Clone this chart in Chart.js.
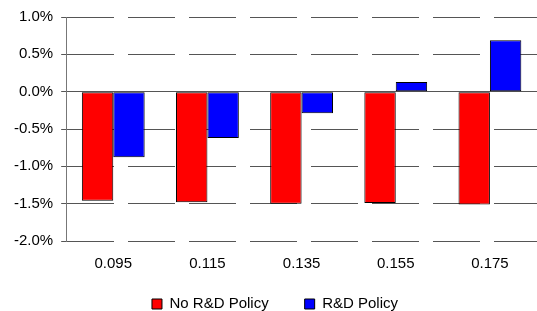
<!DOCTYPE html>
<html>
<head>
<meta charset="utf-8">
<script src="https://cdn.jsdelivr.net/npm/chart.js@4/dist/chart.umd.min.js"></script>
<style>
  html, body { margin: 0; padding: 0; background: #fff; }
  #wrap { width: 537px; height: 311px; }
</style>
</head>
<body>
<div id="wrap"><canvas id="c" width="537" height="311"></canvas></div>
<script>
const categories = ['0.095', '0.115', '0.135', '0.155', '0.175'];
const noPolicy = [-1.46, -1.48, -1.50, -1.49, -1.51];
const rdPolicy = [-0.88, -0.62, -0.29, 0.13, 0.69];
const seriesNames = ['No R&D Policy', 'R&D Policy'];
const yMin = -2.0, yMax = 1.0, yStep = 0.5;

const FONT = 'Liberation Sans, Arial, sans-serif';
const LEGEND_GAP = 36;      // horizontal gap between legend items
const LEGEND_HEIGHT = 24;   // space reserved for the legend at the bottom
const LEGEND_ROW_CENTER = 17; // legend row centre, measured from the legend box top
const LEGEND_SHIFT = LEGEND_GAP + 7.5 - LEGEND_ROW_CENTER;

// Keep the wide item gap without the tall legend box that it would otherwise produce
const legendTweak = {
  id: 'legendTweak',
  afterInit(chart) {
    const lg = chart.legend;
    if (!lg) return;
    const proto = Object.getPrototypeOf(lg);
    lg.fit = function () { proto.fit.call(this); this.height = LEGEND_HEIGHT; };
    lg.draw = function () {
      const t = this.top;
      this.top = t - LEGEND_SHIFT;
      proto.draw.call(this);
      this.top = t;
    };
  }
};

new Chart(document.getElementById('c'), {
  type: 'bar',
  data: {
    labels: categories,
    datasets: [
      { label: seriesNames[0], data: noPolicy, backgroundColor: '#ff0000', borderColor: '#000', borderWidth: 1, borderSkipped: false },
      { label: seriesNames[1], data: rdPolicy, backgroundColor: '#0000ff', borderColor: '#000', borderWidth: 1, borderSkipped: false }
    ]
  },
  plugins: [legendTweak],
  options: {
    responsive: false,
    animation: false,
    layout: { padding: { left: 6, right: -7, top: 17, bottom: 0 } },
    datasets: { bar: { categoryPercentage: 0.667, barPercentage: 1.0 } },
    plugins: {
      legend: {
        position: 'bottom',
        labels: {
          font: { family: FONT, size: 15 },
          color: '#000',
          boxWidth: 10,
          boxHeight: 10,
          padding: LEGEND_GAP
        }
      },
      tooltip: { enabled: false }
    },
    scales: {
      x: {
        grid: { display: false, drawTicks: false },
        border: { display: false },
        ticks: { font: { family: FONT, size: 15 }, color: '#000', padding: 14 }
      },
      y: {
        min: yMin, max: yMax,
        ticks: {
          stepSize: yStep,
          font: { family: FONT, size: 15 },
          color: '#000',
          padding: 8,
          callback: v => v.toFixed(1) + '%'
        },
        grid: {
          color: '#555',
          lineWidth: 1,
          tickLength: 5
        },
        border: {
          display: true,
          color: '#777',
          width: 1,
          dash: ctx => (ctx.tick && Math.abs(ctx.tick.value) < 1e-9) ? [] : [47, 14]
        }
      }
    }
  }
});
</script>
</body>
</html>
